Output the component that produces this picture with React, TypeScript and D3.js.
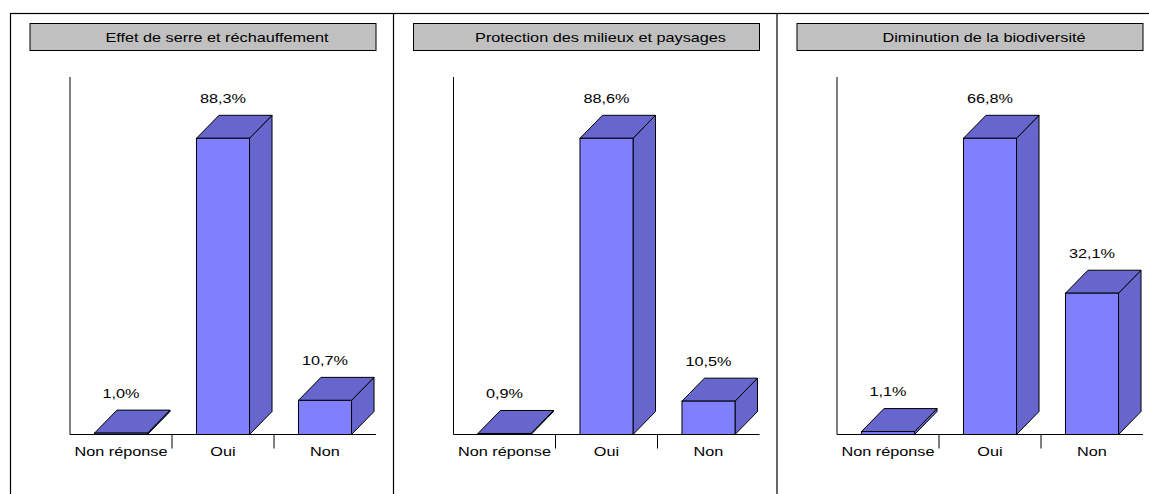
import React, { useEffect } from "react"
import * as d3 from "d3"

// chart data
const panelTitles = [
  "Effet de serre et réchauffement",
  "Protection des milieux et paysages",
  "Diminution de la biodiversité",
]
const categories = ["Non réponse", "Oui", "Non"]
const serreValues = [1.0, 88.3, 10.7]
const milieuxValues = [0.9, 88.6, 10.5]
const biodivValues = [1.1, 66.8, 32.1]
const panelValues = [serreValues, milieuxValues, biodivValues]

const W = 1149
const H = 494
const PANEL_W = 383.5
const FRAME_X = 10
const FRAME_Y = 13
const BASE_Y = 434.5
const DEPTH_X = 22.5
const DEPTH_Y = 23
const STRETCH = 1.25 // picture text is wide
const FONT = "'Liberation Sans', Arial, Helvetica, sans-serif"

const FRONT = "#8080ff"
const TOP = "#6666cc"
const SIDE = "#6666cc"

const fmt = (v: number) => d3.format(".1f")(v).replace(".", ",") + "%"

const Label = ({ x, y, text, size = 13 }: { x: number; y: number; text: string; size?: number }) => (
  <text
    transform={`translate(${x},${y}) scale(${STRETCH},1)`}
    textAnchor="middle"
    fontFamily={FONT}
    fontSize={size}
    fill="#000"
  >
    {text}
  </text>
)

const Panel = ({ left, title, values }: { left: number; title: string; values: number[] }) => {
  const axisX = left + 60
  const x = d3.scaleBand<string>().domain(categories).range([axisX, axisX + 306]).paddingInner(0.48).paddingOuter(0.24)
  const y = d3.scaleLinear().domain([0, d3.max(values) as number]).range([436.5, 138.3])
  const bw = x.bandwidth()

  return (
    <g>
      {/* title box */}
      <rect x={left + 20} y={23.5} width={346} height={27} fill="#c0c0c0" stroke="#000" strokeWidth={1} />
      <Label x={left + 207} y={41.5} text={title} />

      {/* axes */}
      <line x1={axisX} x2={axisX} y1={77} y2={BASE_Y} stroke="#000" />
      <line x1={axisX} x2={axisX + 306} y1={BASE_Y} y2={BASE_Y} stroke="#000" />
      {categories.slice(1).map((c) => {
        const tx = (x(c) as number) - (x.step() - bw) / 2
        return <line key={c} x1={tx} x2={tx} y1={BASE_Y} y2={BASE_Y + 14} stroke="#000" />
      })}

      {categories.map((c, i) => {
        const x0 = x(c) as number
        const x1 = x0 + bw
        const yt = Math.min(y(values[i]), BASE_Y - 1)
        const topPts = [
          [x0, yt],
          [x0 + DEPTH_X, yt - DEPTH_Y],
          [x1 + DEPTH_X, yt - DEPTH_Y],
          [x1, yt],
        ]
        const sidePts = [
          [x1, yt],
          [x1 + DEPTH_X, yt - DEPTH_Y],
          [x1 + DEPTH_X, BASE_Y - DEPTH_Y],
          [x1, BASE_Y],
        ]
        return (
          <g key={c}>
            <polygon points={sidePts.map((p) => p.join(",")).join(" ")} fill={SIDE} stroke="#000" strokeWidth={1} strokeLinejoin="round" />
            <polygon points={topPts.map((p) => p.join(",")).join(" ")} fill={TOP} stroke="#000" strokeWidth={1} strokeLinejoin="round" />
            <rect x={x0} y={yt} width={bw} height={BASE_Y - yt} fill={FRONT} stroke="#000" strokeWidth={1} />
            <Label x={x0 + bw / 2} y={yt - DEPTH_Y - 12.5} text={fmt(values[i])} />
            <Label x={x0 + bw / 2} y={BASE_Y + 21.5} text={c} />
          </g>
        )
      })}
    </g>
  )
}

export default function App() {
  useEffect(() => {
    document.body.style.margin = "0"
  }, [])

  return (
    <svg width={W} height={H} style={{ display: "block", background: "#fff" }}>
      {/* outer frame */}
      <rect x={FRAME_X + 0.5} y={FRAME_Y + 0.5} width={W + 50} height={H + 50} fill="none" stroke="#000" strokeWidth={1.2} />
      {[1, 2].map((i) => (
        <line key={i} x1={FRAME_X + i * PANEL_W} x2={FRAME_X + i * PANEL_W} y1={FRAME_Y} y2={H} stroke="#000" strokeWidth={1.2} />
      ))}
      {panelTitles.map((t, i) => (
        <Panel key={t} left={FRAME_X + i * PANEL_W} title={t} values={panelValues[i]} />
      ))}
    </svg>
  )
}
